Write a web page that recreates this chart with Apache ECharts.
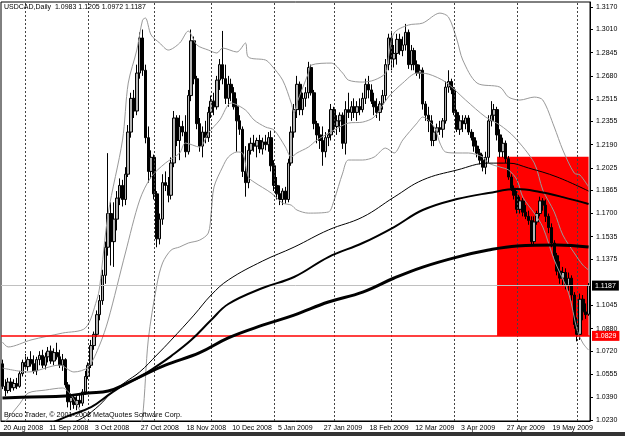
<!DOCTYPE html>
<html>
<head>
<meta charset="utf-8">
<script src="https://cdn.jsdelivr.net/npm/echarts@6/dist/echarts.min.js"></script>
<style>
html, body { margin: 0; padding: 0; background: #fff; }
#chart { width: 625px; height: 436px; }
</style>
</head>
<body>
<div id="chart"></div>
<script>
// USDCAD daily, 20 Aug 2008 - 5 Jun 2009 (206 bars)
let opens = [
  1.063,1.047,1.044,1.050,1.046,1.049,1.047,1.056,1.064,1.061,1.066,1.063,1.058,1.066,1.069,1.062,1.068,1.072,1.065,1.071,
  1.068,1.062,1.066,1.048,1.036,1.039,1.034,1.037,1.035,1.043,1.054,1.062,1.076,1.084,1.098,1.108,1.126,1.146,1.170,1.150,
  1.166,1.181,1.190,1.180,1.198,1.228,1.252,1.243,1.270,1.295,1.272,1.224,1.200,1.210,1.184,1.152,1.166,1.192,1.190,1.183,
  1.206,1.238,1.222,1.232,1.228,1.214,1.254,1.293,1.266,1.234,1.218,1.228,1.224,1.242,1.250,1.246,1.265,1.276,1.266,1.252,
  1.262,1.256,1.246,1.236,1.230,1.200,1.192,1.215,1.220,1.218,1.222,1.216,1.221,1.219,1.224,1.204,1.190,1.184,1.180,1.186,
  1.180,1.206,1.228,1.244,1.262,1.244,1.252,1.256,1.274,1.256,1.234,1.226,1.222,1.214,1.224,1.226,1.244,1.232,1.236,1.240,
  1.220,1.244,1.242,1.246,1.242,1.246,1.244,1.252,1.262,1.258,1.250,1.246,1.242,1.248,1.254,1.276,1.295,1.280,1.284,1.294,
  1.286,1.290,1.299,1.276,1.286,1.276,1.270,1.272,1.248,1.240,1.236,1.222,1.228,1.231,1.230,1.236,1.260,1.264,1.258,1.242,
  1.230,1.236,1.234,1.238,1.228,1.224,1.218,1.213,1.208,1.203,1.210,1.236,1.240,1.244,1.226,1.214,1.220,1.209,1.196,1.188,
  1.183,1.173,1.179,1.171,1.168,1.165,1.150,1.164,1.170,1.179,1.176,1.168,1.160,1.149,1.140,1.129,1.124,1.128,1.119,1.124,
  1.112,1.091,1.084,1.109,1.100,1.0983
]
let highs = [
  1.066,1.052,1.053,1.053,1.052,1.053,1.058,1.066,1.070,1.068,1.072,1.069,1.068,1.072,1.073,1.071,1.075,1.076,1.074,1.078,
  1.073,1.070,1.067,1.050,1.042,1.041,1.040,1.042,1.045,1.058,1.064,1.080,1.086,1.101,1.112,1.130,1.150,1.213,1.178,1.178,
  1.186,1.195,1.194,1.203,1.233,1.256,1.258,1.276,1.299,1.301,1.276,1.232,1.215,1.212,1.186,1.170,1.198,1.200,1.196,1.210,
  1.243,1.240,1.240,1.236,1.240,1.258,1.301,1.296,1.268,1.238,1.232,1.236,1.246,1.254,1.256,1.268,1.280,1.300,1.276,1.268,
  1.266,1.260,1.252,1.240,1.232,1.218,1.220,1.224,1.226,1.224,1.226,1.224,1.226,1.228,1.229,1.208,1.196,1.190,1.188,1.189,
  1.209,1.232,1.248,1.268,1.264,1.256,1.260,1.278,1.276,1.258,1.236,1.232,1.232,1.228,1.230,1.248,1.246,1.240,1.242,1.242,
  1.250,1.256,1.250,1.252,1.250,1.252,1.256,1.266,1.268,1.262,1.256,1.252,1.250,1.258,1.280,1.298,1.300,1.290,1.298,1.298,
  1.296,1.305,1.301,1.290,1.288,1.279,1.276,1.274,1.250,1.246,1.240,1.232,1.234,1.236,1.238,1.264,1.272,1.266,1.260,1.244,
  1.240,1.240,1.240,1.240,1.230,1.228,1.222,1.216,1.212,1.214,1.240,1.250,1.248,1.246,1.230,1.224,1.222,1.211,1.198,1.190,
  1.186,1.182,1.181,1.176,1.172,1.168,1.168,1.172,1.182,1.181,1.180,1.170,1.163,1.151,1.142,1.136,1.132,1.131,1.128,1.126,
  1.114,1.096,1.113,1.112,1.106,1.1205
]
let lows = [
  1.045,1.040,1.042,1.043,1.044,1.045,1.046,1.054,1.059,1.058,1.061,1.056,1.055,1.062,1.060,1.059,1.064,1.063,1.062,1.066,
  1.060,1.058,1.046,1.032,1.030,1.031,1.030,1.032,1.033,1.041,1.052,1.060,1.073,1.082,1.094,1.105,1.120,1.140,1.133,1.132,
  1.158,1.176,1.175,1.176,1.196,1.224,1.238,1.240,1.266,1.268,1.220,1.192,1.195,1.180,1.146,1.148,1.162,1.186,1.178,1.180,
  1.203,1.218,1.208,1.225,1.210,1.212,1.250,1.262,1.230,1.214,1.210,1.220,1.221,1.238,1.240,1.244,1.258,1.262,1.248,1.246,
  1.250,1.244,1.214,1.226,1.196,1.182,1.188,1.212,1.214,1.210,1.213,1.212,1.215,1.214,1.200,1.186,1.180,1.176,1.176,1.177,
  1.178,1.204,1.224,1.238,1.240,1.240,1.246,1.252,1.254,1.230,1.220,1.216,1.204,1.210,1.218,1.222,1.228,1.226,1.228,1.216,
  1.212,1.238,1.236,1.238,1.236,1.240,1.242,1.248,1.252,1.248,1.240,1.238,1.236,1.244,1.250,1.272,1.272,1.274,1.276,1.283,
  1.282,1.286,1.273,1.272,1.272,1.268,1.266,1.244,1.236,1.228,1.218,1.218,1.222,1.226,1.224,1.234,1.256,1.255,1.240,1.228,
  1.226,1.228,1.230,1.226,1.222,1.214,1.210,1.205,1.200,1.198,1.206,1.232,1.236,1.222,1.210,1.210,1.206,1.194,1.186,1.180,
  1.170,1.170,1.168,1.166,1.162,1.148,1.148,1.162,1.168,1.172,1.164,1.156,1.146,1.137,1.126,1.120,1.119,1.116,1.115,1.108,
  1.088,1.079,1.080,1.094,1.095,1.0972
]
let closes = [
  1.047,1.044,1.050,1.046,1.049,1.047,1.056,1.064,1.061,1.066,1.063,1.058,1.066,1.069,1.062,1.068,1.072,1.065,1.071,1.068,
  1.062,1.066,1.048,1.036,1.039,1.034,1.037,1.035,1.043,1.054,1.062,1.076,1.084,1.098,1.108,1.126,1.146,1.170,1.150,1.166,
  1.181,1.190,1.180,1.198,1.228,1.252,1.243,1.270,1.295,1.272,1.224,1.200,1.210,1.184,1.152,1.166,1.192,1.190,1.183,1.206,
  1.238,1.222,1.232,1.228,1.214,1.254,1.293,1.266,1.234,1.218,1.228,1.224,1.242,1.250,1.246,1.265,1.276,1.266,1.252,1.262,
  1.256,1.246,1.236,1.230,1.200,1.192,1.215,1.220,1.218,1.222,1.216,1.221,1.219,1.224,1.204,1.190,1.184,1.180,1.186,1.180,
  1.206,1.228,1.244,1.262,1.244,1.252,1.256,1.274,1.256,1.234,1.226,1.222,1.214,1.224,1.226,1.244,1.232,1.236,1.240,1.220,
  1.244,1.242,1.246,1.242,1.246,1.244,1.252,1.262,1.258,1.250,1.246,1.242,1.248,1.254,1.276,1.295,1.280,1.284,1.294,1.286,
  1.290,1.299,1.276,1.286,1.276,1.270,1.272,1.248,1.240,1.236,1.222,1.228,1.231,1.230,1.236,1.260,1.264,1.258,1.242,1.230,
  1.236,1.234,1.238,1.228,1.224,1.218,1.213,1.208,1.203,1.210,1.236,1.240,1.244,1.226,1.214,1.220,1.209,1.196,1.188,1.183,
  1.173,1.179,1.171,1.168,1.165,1.150,1.164,1.170,1.179,1.176,1.168,1.160,1.149,1.140,1.129,1.124,1.128,1.119,1.124,1.112,
  1.091,1.084,1.109,1.100,1.098,1.1187
]

// Bollinger bands: [bar index, price]
let bbUpper = [[0,1.0785],[2,1.0750],[10,1.0800],[21,1.0849],[29,1.0885],[33,1.1084],[34,1.1177],[37,1.1703],[42,1.2223],
  [44,1.2629],[47,1.2864],[49,1.3077],[50,1.3092],[52,1.2971],[55,1.2914],[58,1.2864],[62,1.2914],[65,1.2999],[68,1.2900],
  [72,1.2864],[75,1.2843],[77,1.2878],[82,1.2850],[85,1.2914],[86,1.2814],[92,1.2793],[94,1.2757],[98,1.2650],[101,1.2487],
  [102,1.2415],[103,1.2487],[107,1.2700],[108,1.2757],[115,1.2771],[119,1.2700],[121,1.2650],[126,1.2636],[130,1.2650],
  [134,1.2700],[135,1.2814],[137,1.2985],[142,1.3042],[147,1.3056],[153,1.3127],[156,1.3099],[159,1.2935],[161,1.2793],
  [166,1.2629],[174,1.2600],[177,1.2529],[181,1.2508],[186,1.2529],[189,1.2508],[193,1.2316],[196,1.2152],[200,1.1988],
  [202,1.1974],[205,1.1889]]
let bbMiddle = [[0,1.0600],[9,1.0572],[20,1.0621],[25,1.0572],[30,1.0607],[34,1.0764],[37,1.0942],[43,1.1419],[48,1.1796],
  [52,1.1960],[57,1.2059],[62,1.2131],[64,1.2202],[69,1.2173],[72,1.2273],[76,1.2366],[80,1.2487],[85,1.2437],[88,1.2366],
  [92,1.2316],[95,1.2294],[99,1.2173],[101,1.2102],[103,1.2131],[107,1.2173],[110,1.2223],[116,1.2294],[121,1.2344],
  [126,1.2351],[130,1.2387],[135,1.2530],[140,1.2629],[145,1.2700],[149,1.2693],[155,1.2636],[162,1.2508],[169,1.2387],
  [174,1.2330],[179,1.2245],[186,1.2060],[189,1.1867],[193,1.1711],[196,1.1547],[200,1.1419],[203,1.1333],[205,1.1298]]
let bbLower = [[0,1.0194],[2,1.0244],[6,1.0344],[9,1.0422],[15,1.0443],[21,1.0458],[24,1.0408],[27,1.0301],[30,1.0194],
  [34,0.998],[40,0.987],[44,0.995],[47,1.009],[49,1.0251],[51,1.080],[54,1.1191],[56,1.1348],[59,1.1440],[62,1.1462],
  [65,1.1490],[69,1.1511],[72,1.1561],[73,1.1703],[74,1.1889],[77,1.2031],[79,1.2102],[82,1.2138],[84,1.2130],[86,1.1960],
  [88,1.1924],[94,1.1846],[98,1.1775],[101,1.1760],[103,1.1725],[107,1.1703],[114,1.1711],[116,1.1796],[119,1.1988],
  [121,1.2081],[126,1.2081],[130,1.2102],[134,1.2166],[137,1.2131],[140,1.2223],[145,1.2344],[147,1.2387],[151,1.2316],
  [153,1.2202],[155,1.2138],[159,1.2131],[163,1.2131],[168,1.2102],[170,1.2059],[174,1.2031],[177,1.2010],[180,1.1939],
  [182,1.1817],[186,1.1703],[189,1.1604],[193,1.1369],[198,1.1134],[201,1.0871],[203,1.0778],[205,1.0728]]

// moving averages (thin, medium, thick)
let maFast = [[20,1.0173],[28,1.0244],[34,1.0337],[38,1.0422],[43,1.0500],[48,1.0572],[54,1.0693],[59,1.0799],[67,1.0977],
  [73,1.1120],[79,1.1227],[91,1.1362],[102,1.1461],[114,1.1583],[126,1.1675],[137,1.1817],[147,1.1939],[159,1.2010],
  [170,1.2059],[177,1.2059],[184,1.2024],[194,1.1960],[205,1.1860]]
let maMid = [[13,1.0173],[22,1.0251],[31,1.0322],[38,1.0422],[43,1.0486],[48,1.0536],[54,1.0614],[59,1.0685],[66,1.0799],
  [73,1.0942],[79,1.1056],[91,1.1170],[102,1.1248],[114,1.1390],[126,1.1490],[137,1.1604],[147,1.1725],[159,1.1803],
  [170,1.1846],[180,1.1874],[188,1.1853],[196,1.1817],[205,1.1768]]
let maSlow = [[0,1.0386],[10,1.0394],[22,1.0401],[30,1.0422],[37,1.0436],[43,1.0486],[50,1.0557],[57,1.0621],[69,1.0710],
  [79,1.0815],[91,1.0905],[102,1.0977],[114,1.1070],[126,1.1141],[137,1.1241],[147,1.1319],[159,1.1390],[170,1.1440],
  [180,1.1469],[194,1.1476],[205,1.1461]]

let yTicks = [1.3170,1.3010,1.2845,1.2680,1.2515,1.2355,1.2190,1.2025,1.1865,1.1700,1.1535,1.1375,1.1045,1.0880,1.0720,1.0555,1.0390,1.0230]
let monthStarts = [8,30,53,73,95,116,136,158,180,201]
let lastPrice = 1.1187
let levelPrice = 1.0829
let boxStart = 173
let boxTop = 1.2104

const MONTHS = ['Jan','Feb','Mar','Apr','May','Jun','Jul','Aug','Sep','Oct','Nov','Dec']
function tradingDays(count) {
  let d = new Date(Date.UTC(2008, 7, 20))
  let out = []
  while (out.length < count) {
    let wd = d.getUTCDay()
    let key = (d.getUTCMonth() + 1) + '-' + d.getUTCDate()
    if (wd !== 0 && wd !== 6 && key !== '12-25' && key !== '1-1') {
      out.push(d.getUTCDate() + ' ' + MONTHS[d.getUTCMonth()] + ' ' + d.getUTCFullYear())
    }
    d.setUTCDate(d.getUTCDate() + 1)
  }
  return out
}
let days = tradingDays(closes.length)
let candles = closes.map((c, i) => [opens[i], c, lows[i], highs[i]])

const FONT = 'Liberation Sans'
var myChart = echarts.init(document.getElementById('chart'))

function bandLine(data) {
  return { type: 'line', data: data, smooth: 0.3, symbol: 'none', z: 4, silent: true,
    lineStyle: { color: '#999', width: 1 } }
}
function maLine(data, w) {
  return { type: 'line', data: data, smooth: 0.4, symbol: 'none', z: 5, silent: true,
    lineStyle: { color: '#000', width: w } }
}
function priceLine(value, color, width, boxColor) {
  return {
    yAxis: value,
    lineStyle: { color: color, type: 'solid', width: width },
    label: { show: true, position: 'end', distance: 2, formatter: value.toFixed(4), color: '#fff',
      backgroundColor: boxColor, padding: [2, 3, 1, 3], fontSize: 7, fontFamily: FONT }
  }
}

myChart.setOption({
  animation: false,
  backgroundColor: '#fff',
  grid: { left: 1, right: 35, top: 2, bottom: 15, show: true, borderColor: '#000', borderWidth: 1,
    containLabel: false, outerBoundsMode: 'none' },
  xAxis: {
    type: 'category',
    data: days,
    boundaryGap: true,
    axisLine: { lineStyle: { color: '#000' } },
    axisTick: { interval: 15, alignWithLabel: true, length: 3, lineStyle: { color: '#000' } },
    axisLabel: { interval: 15, align: 'left', margin: 4, color: '#000', fontSize: 7, fontFamily: FONT, padding: [0, 0, 0, 1] },
    splitLine: { show: false }
  },
  yAxis: {
    type: 'value',
    position: 'right',
    min: 1.0223,
    max: 1.3206,
    splitLine: { show: false },
    axisLine: { show: true, lineStyle: { color: '#000' } },
    axisTick: { show: true, customValues: yTicks, length: 3, lineStyle: { color: '#000' } },
    axisLabel: { customValues: yTicks, formatter: v => v.toFixed(4), margin: 6, color: '#000', fontSize: 7, fontFamily: FONT }
  },
  graphic: [
    { type: 'text', left: 4, top: 4, z: 10,
      style: { text: 'USDCAD,Daily  1.0983 1.1205 1.0972 1.1187', fill: '#000', font: '7px "Liberation Sans"' } },
    { type: 'text', left: 4, top: 412, z: 10,
      style: { text: 'Broco Trader, © 2001-2008 MetaQuotes Software Corp.', fill: '#000', font: '7.2px "Liberation Sans"' } },
    { type: 'rect', left: 0, top: 432, shape: { width: 625, height: 4 }, style: { fill: '#333' } }
  ],
  series: [
    {
      // background: red box and month separators
      type: 'line', data: [], z: 1, silent: true,
      markArea: {
        silent: true,
        itemStyle: { color: '#ff0000', opacity: 1 },
        data: [[{ xAxis: boxStart, yAxis: boxTop }, { xAxis: closes.length - 1, yAxis: levelPrice }]]
      },
      markLine: {
        silent: true, symbol: 'none', label: { show: false },
        lineStyle: { color: '#444', type: [2, 2], width: 1 },
        data: monthStarts.map(i => ({ xAxis: i }))
      }
    },
    {
      type: 'candlestick',
      data: candles,
      z: 3,
      barWidth: 3,
      silent: true,
      itemStyle: { color: '#b4b4b4', color0: '#000', borderColor: '#000', borderColor0: '#000', borderWidth: 1 },
      markLine: {
        silent: true, symbol: 'none', precision: 4,
        data: [priceLine(lastPrice, '#c0c0c0', 1, '#000'), priceLine(levelPrice, '#ff0000', 1.5, '#ff0000')]
      }
    },
    bandLine(bbUpper),
    bandLine(bbMiddle),
    bandLine(bbLower),
    maLine(maFast, 1),
    maLine(maMid, 2),
    maLine(maSlow, 3)
  ]
})
</script>
</body>
</html>
